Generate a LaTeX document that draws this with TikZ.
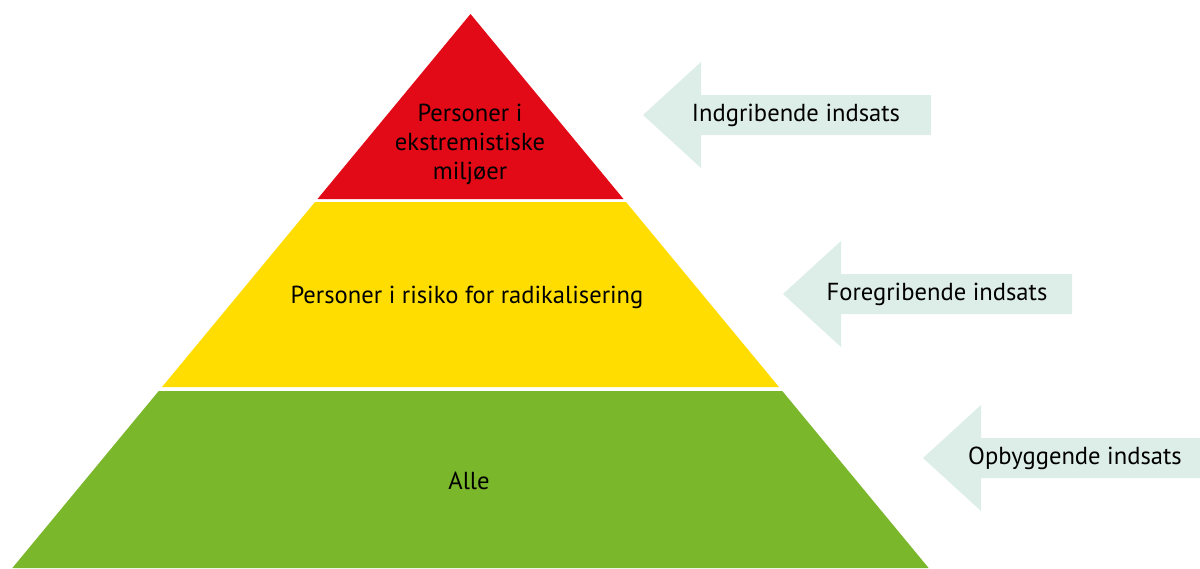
\documentclass[tikz,border=0pt]{standalone}
\usepackage{fontspec}
\setmainfont{PT Sans}
\definecolor{redlayer}{HTML}{E30A17}
\definecolor{yellowlayer}{HTML}{FFDD00}
\definecolor{greenlayer}{HTML}{7AB72B}
\definecolor{arrowfill}{HTML}{DDEDE7}
\tikzset{
  layertext/.style={align=center, font=\fontsize{12.3}{14.5}\selectfont, inner sep=0pt},
  tagtext/.style={font=\fontsize{12.3}{14.5}\selectfont, inner sep=0pt}
}
\begin{document}
\begin{tikzpicture}[x=0.5pt,y=-0.5pt]
  \useasboundingbox (0,0) rectangle (1200,568);
  % pyramid layers
  \foreach \top/\bot/\col in {14/199/redlayer, 202/387/yellowlayer, 391/568/greenlayer}{
    \fill[\col] ({470.5-0.827*(\top-14)},\top) -- ({470.5+0.827*(\top-14)},\top)
      -- ({470.5+0.827*(\bot-14)},\bot) -- ({470.5-0.827*(\bot-14)},\bot) -- cycle;
  }
  \node[layertext] (red) at (470,144) {Personer i\\ekstremistiske\\miljøer};
  \node[layertext] (yellow) at (467,297) {Personer i risiko for radikalisering};
  \node[layertext] (green) at (469,481) {Alle};
  % arrows
  \foreach \n/\tip/\y/\tail/\tx/\t in {a/643/115/931/796/Indgribende indsats,
      b/783/294/1072/937/Foregribende indsats, c/923/458/1200/1075/Opbyggende indsats}{
    \fill[arrowfill] (\tip,\y) -- ++(58,-53) -- ++(0,33) -- (\tail,\y-20)
      -- (\tail,\y+20) -- (\tip+58,\y+20) -- ++(0,33) -- cycle;
    \node[tagtext] (arrow\n) at (\tx,\y) {\t};
  }
\end{tikzpicture}
\end{document}
